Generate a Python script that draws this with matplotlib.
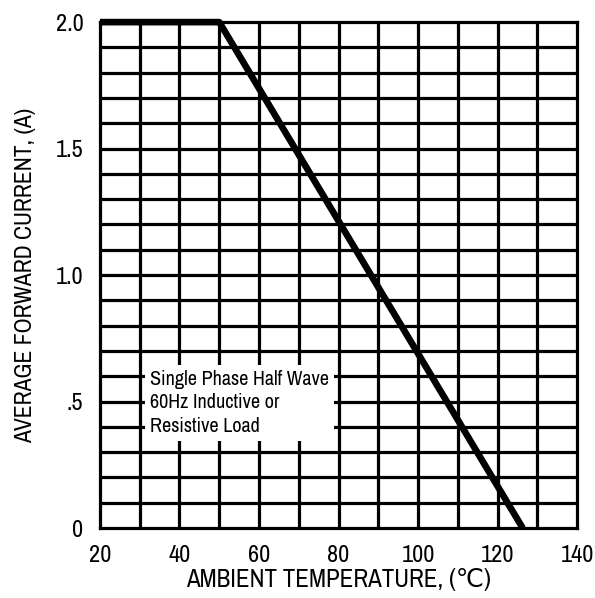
import matplotlib.pyplot as plt

# derating curve (ambient temp in C, average forward current in A)
temp = [20, 50, 126.3]
current = [2.0, 2.0, 0.0]

x_ticks = [20, 40, 60, 80, 100, 120, 140]
y_ticks = [0, 0.5, 1.0, 1.5, 2.0]
y_tick_labels = ["0", ".5", "1.0", "1.5", "2.0"]
x_grid = range(30, 140, 10)
y_grid = [i / 10 for i in range(1, 20)]

note = "Single Phase Half Wave\n60Hz Inductive or\nResistive Load"

plt.rcParams["font.family"] = ["Archivo Narrow", "DejaVu Sans"]

fig = plt.figure(figsize=(5.95, 5.98), dpi=100)
ax = fig.add_axes([0.168, 0.117, 0.802, 0.846])

ax.set_xlim(20, 140)
ax.set_ylim(0, 2.0)

# dense grid, drawn by hand so it sits under everything
for xv in x_grid:
    ax.axvline(xv, color="black", lw=2.3, zorder=1)
for yv in y_grid:
    ax.axhline(yv, color="black", lw=2.3, zorder=1)

ax.plot(temp, current, color="black", lw=4.8, solid_capstyle="butt",
        clip_on=False, zorder=3)

ax.text(32.7, 0.625, note, fontsize=14.5, va="top", ha="left",
        linespacing=1.3, zorder=4,
        bbox=dict(boxstyle="square,pad=0.25", fc="white", ec="none"))

ax.set_xticks(x_ticks)
ax.set_yticks(y_ticks)
ax.set_yticklabels(y_tick_labels)
ax.tick_params(length=0, labelsize=17.5)
ax.tick_params(axis="x", pad=12)
ax.tick_params(axis="y", pad=12)
for s in ax.spines.values():
    s.set_linewidth(2.3)

ax.set_xlabel("AMBIENT TEMPERATURE, (\u2103)", fontsize=18, labelpad=2)
ax.set_ylabel("AVERAGE FORWARD CURRENT, (A)", fontsize=17, labelpad=14)

plt.savefig("out.png", dpi=100)
